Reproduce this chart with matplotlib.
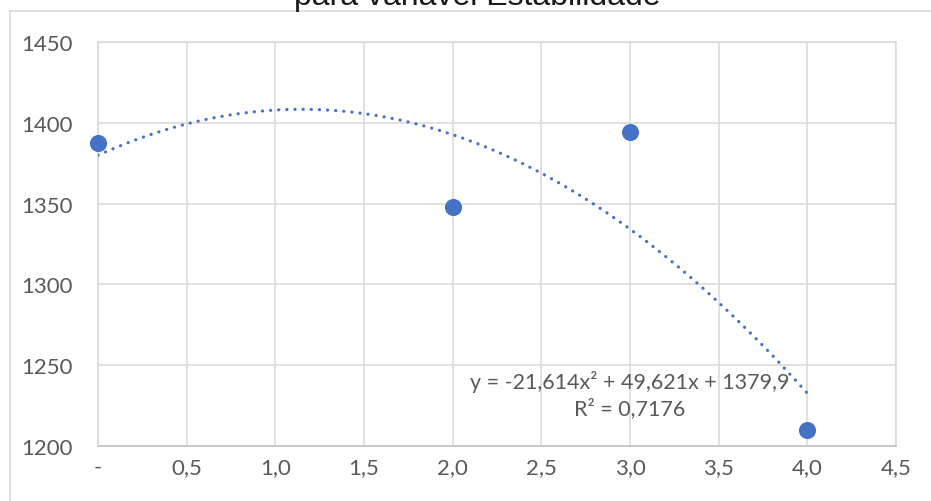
import numpy as np
import matplotlib.pyplot as plt
from matplotlib.lines import Line2D

# data
x_vals = [0, 2, 3, 4]
y_vals = [1387.4, 1347.7, 1394.2, 1210.1]

x_ticks = [0, 0.5, 1.0, 1.5, 2.0, 2.5, 3.0, 3.5, 4.0, 4.5]
x_tick_labels = ['-', '0,5', '1,0', '1,5', '2,0', '2,5', '3,0', '3,5', '4,0', '4,5']
y_ticks = [1200, 1250, 1300, 1350, 1400, 1450]

title = "para variável Estabilidade"
eq_text = "y = -21,614x² + 49,621x + 1379,9"
r2_text = "R² = 0,7176"

blue = '#4472C4'
grid_c = '#D9D9D9'
text_c = '#595959'
tick_font = 'Lato'


def main():
    fig = plt.figure(figsize=(9.31, 5.02), dpi=100)
    ax = fig.add_axes([98 / 931, 1 - 447 / 502, (896 - 98) / 931, (447 - 43) / 502])

    # outer chart frame (partly cropped)
    fig.add_artist(Line2D([10 / 931, 1], [1 - 12 / 502] * 2, color=grid_c, lw=1.2,
                          transform=fig.transFigure))
    fig.add_artist(Line2D([10 / 931] * 2, [0, 1 - 12 / 502], color=grid_c, lw=1.2,
                          transform=fig.transFigure))

    # title, mostly cut off at the top
    fig.text(477 / 931, 1 - 5 / 502, title, ha='center', va='baseline',
             fontsize=23, family='Liberation Sans', color='#1a1a1a')

    # polynomial trendline (order 2) like excel
    coefs = np.polyfit(x_vals, y_vals, 2)
    xs = np.linspace(0, 4, 300)
    ax.plot(xs, np.polyval(coefs, xs), color=blue, lw=2.3,
            linestyle=(0, (0.05, 2.5)), dash_capstyle='round', zorder=3)

    ax.plot(x_vals, y_vals, 'o', color=blue, markersize=11.3, zorder=4,
            clip_on=False)

    ax.set_xlim(0, 4.5)
    ax.set_ylim(1200, 1450)
    ax.set_xticks(x_ticks)
    ax.set_xticklabels(x_tick_labels)
    ax.set_yticks(y_ticks)
    ax.grid(True, color=grid_c, lw=1.1)
    ax.set_axisbelow(True)
    for side in ['top', 'right', 'left']:
        ax.spines[side].set_color(grid_c)
        ax.spines[side].set_linewidth(1.1)
    ax.spines['bottom'].set_color('#BFBFBF')
    ax.spines['bottom'].set_linewidth(1.1)
    ax.tick_params(length=0, labelsize=16, colors=text_c)
    ax.tick_params(axis='y', pad=18)
    ax.tick_params(axis='x', pad=8)
    for lab in ax.get_xticklabels() + ax.get_yticklabels():
        lab.set_family(tick_font)

    # equation label
    ax.text(3.0, 1240.5, eq_text, ha='center', va='center', fontsize=15.5,
            family=tick_font, color=text_c)
    ax.text(3.0, 1223.5, r2_text, ha='center', va='center', fontsize=15.5,
            family=tick_font, color=text_c)

    fig.savefig('out.png', dpi=100)


if __name__ == "__main__":
    main()
